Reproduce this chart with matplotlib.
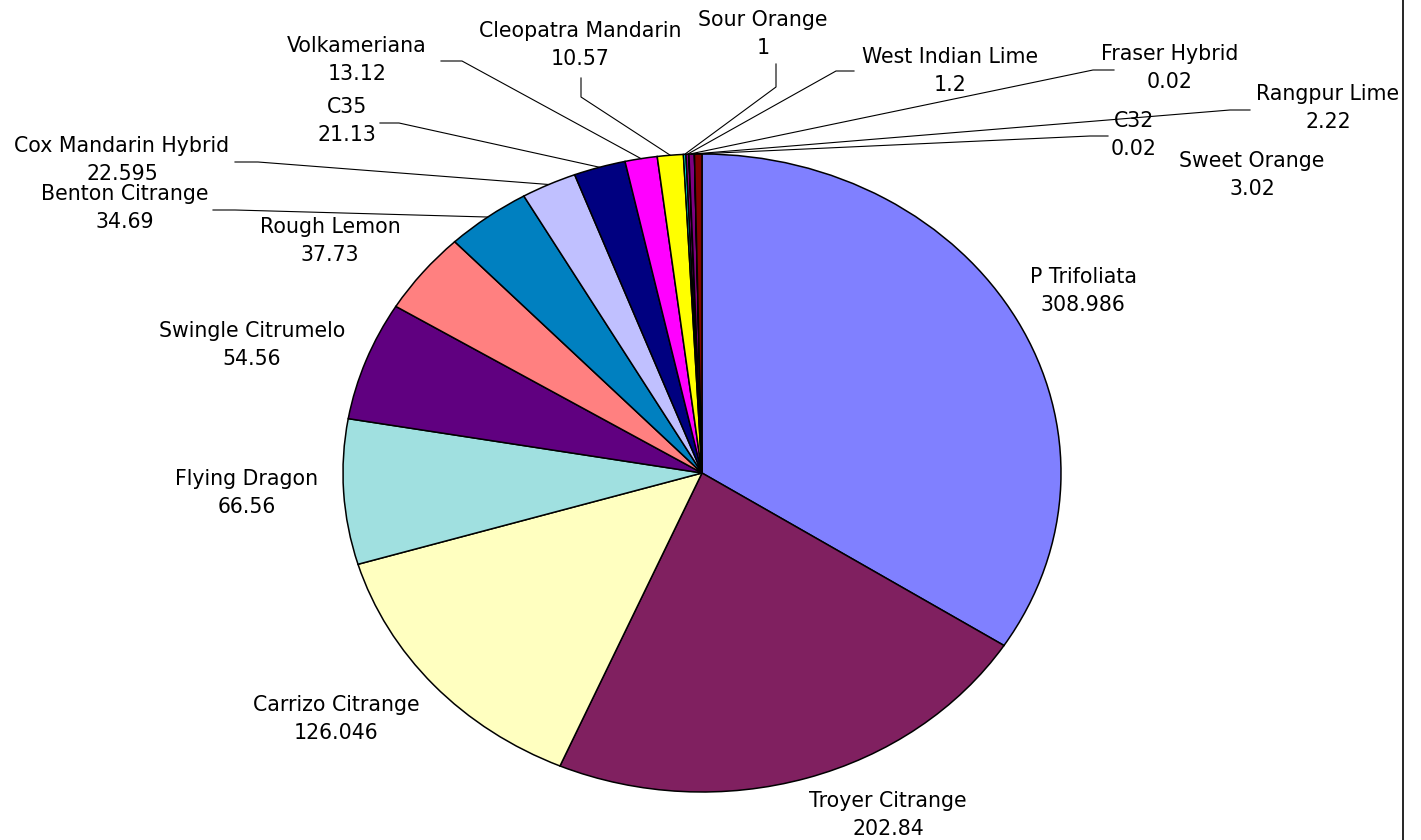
import numpy as np
import matplotlib
matplotlib.use('Agg')
import matplotlib.pyplot as plt

# datos del grafico
nombres = ['P Trifoliata', 'Troyer Citrange', 'Carrizo Citrange', 'Flying Dragon',
           'Swingle Citrumelo', 'Rough Lemon', 'Benton Citrange', 'Cox Mandarin Hybrid',
           'C35', 'Volkameriana', 'Cleopatra Mandarin', 'Sour Orange',
           'West Indian Lime', 'Fraser Hybrid', 'Rangpur Lime', 'C32', 'Sweet Orange']
valores = [308.986, 202.84, 126.046, 66.56, 54.56, 37.73, 34.69, 22.595,
           21.13, 13.12, 10.57, 1, 1.2, 0.02, 2.22, 0.02, 3.02]
colores = ['#8080FF', '#802060', '#FFFFC0', '#A0E0E0', '#600080', '#FF8080',
           '#0080C0', '#C0C0FF', '#000080', '#FF00FF', '#FFFF00', '#00FFFF',
           '#800080', '#800000', '#800080', '#800000', '#800000']

# posicion de etiquetas (pixeles) y codo de la linea guia
etiquetas = [
    ((1083, 291), None),
    ((888, 815), None),
    ((336, 719), None),
    ((247, 493), None),
    ((252, 345), None),
    ((330, 241), None),
    ((125, 208), [(235, 210), (213, 210)]),
    ((122, 160), [(258, 162), (235, 162)]),
    ((347, 121), [(399, 123), (380, 123)]),
    ((357, 60), [(462, 61), (441, 61)]),
    ((580, 45), [(581, 97), (581, 78)]),
    ((763, 34), [(776, 87), (776, 64)]),
    ((950, 71), [(836, 71), (854, 71)]),
    ((1170, 68), [(1093, 70), (1114, 70)]),
    ((1328, 108), [(1230, 110), (1250, 110)]),
    ((1134, 135), [(1090, 136), (1108, 136)]),
    ((1252, 175), None),
]

W, H = 1421, 840
cx, cy, rx, ry = 702, 473, 359, 319


def px(x, y):
    return (x - cx) / rx, (cy - y) / ry


plt.rcParams['font.family'] = ['DejaVu Sans']

fig = plt.figure(figsize=(W / 100, H / 100), dpi=100)
ax = fig.add_axes([(cx - rx) / W, (H - cy - ry) / H, 2 * rx / W, 2 * ry / H])

cunas, _ = ax.pie(valores, colors=colores, startangle=90, counterclock=False,
                  wedgeprops=dict(edgecolor='black', linewidth=1.1))
ax.set_aspect('auto')
ax.set_xlim(-1, 1)
ax.set_ylim(-1, 1)
ax.axis('off')

for cuna, nombre, v, (pos, guia) in zip(cunas, nombres, valores, etiquetas):
    tx, ty = px(*pos)
    ax.text(tx, ty, f'{nombre}\n{v:g}', ha='center', va='center',
            multialignment='center', fontsize=14.8, linespacing=1.5, clip_on=False)
    if guia:
        ang = np.deg2rad((cuna.theta1 + cuna.theta2) / 2)
        xs = [np.cos(ang)] + [px(*p)[0] for p in guia]
        ys = [np.sin(ang)] + [px(*p)[1] for p in guia]
        ax.plot(xs, ys, color='black', lw=0.8, clip_on=False)

# borde derecho del area del grafico
fig.add_artist(plt.Line2D([1403 / W, 1403 / W], [0, 1], color='black', lw=1.2))

fig.savefig('out.png', dpi=100)
